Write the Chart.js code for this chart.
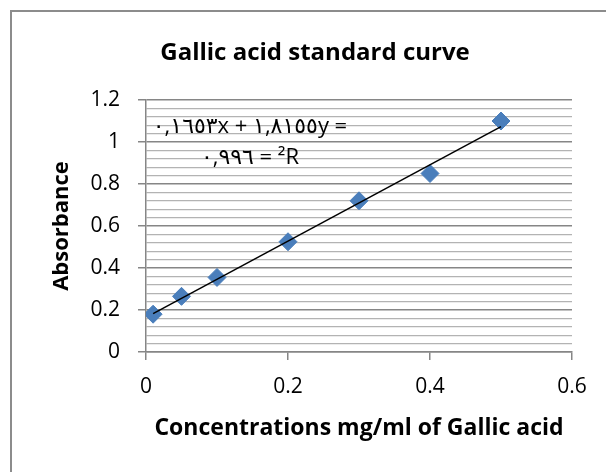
<!DOCTYPE html>
<html>
<head>
<meta charset="utf-8">
<script src="https://cdn.jsdelivr.net/npm/chart.js@4"></script>
<style>
  html, body { margin: 0; padding: 0; background: #fff; }
  #wrap { position: relative; width: 606px; height: 472px; overflow: hidden; }
  #frame { position: absolute; left: 10px; top: 10px; width: 620px; height: 480px;
           border-left: 2px solid #8c8c8c; border-top: 2px solid #8c8c8c; }
  canvas { position: absolute; left: 0; top: 0; }
</style>
</head>
<body>
<div id="wrap">
  <div id="frame"></div>
  <canvas id="chart" width="606" height="472"></canvas>
</div>
<script>
// values
const concX = [0.01, 0.05, 0.1, 0.2, 0.3, 0.4, 0.5];
const absorbY = [0.18, 0.265, 0.355, 0.525, 0.72, 0.85, 1.1];
// trendline ends as seen in the picture
const trendX = [0.01, 0.5];
const trendY = [0.183, 1.073];
const xTicks = [0, 0.2, 0.4, 0.6];
const yTicks = [0, 0.2, 0.4, 0.6, 0.8, 1, 1.2];
const chartTitle = 'Gallic acid standard curve';
const xTitle = 'Concentrations mg/ml of Gallic acid';
const yTitle = 'Absorbance';
const eqLines = ['٠,١٦٥٣x + ١,٨١٥٥y =', '٠,٩٩٦ = ²R'];

const FONT = '"Open Sans", "DejaVu Sans", sans-serif';
const isMajor = v => yTicks.some(t => Math.abs(t - v) < 1e-6);

// title and trendline label are drawn on top
const textPlugin = {
  id: 'texts',
  afterDraw(chart) {
    const c = chart.ctx;
    const a = chart.chartArea;
    c.save();
    c.fillStyle = '#000';
    c.textAlign = 'center';
    c.textBaseline = 'middle';
    c.font = 'bold 24px ' + FONT;
    c.fillText(chartTitle, 315, 53);
    c.font = '22px ' + FONT;
    eqLines.forEach((t, i) => c.fillText(t, a.left + 104, 127 + i * 31));
    c.restore();
  }
};

new Chart(document.getElementById('chart'), {
  type: 'scatter',
  data: {
    datasets: [
      {
        type: 'line',
        data: trendX.map((x, i) => ({ x: x, y: trendY[i] })),
        borderColor: '#000',
        borderWidth: 1.5,
        pointRadius: 0,
        showLine: true,
        order: 0
      },
      {
        data: concX.map((x, i) => ({ x: x, y: absorbY[i] })),
        pointStyle: 'rectRot',
        pointRadius: 9,
        backgroundColor: '#4a7ebb',
        borderColor: '#4a7ebb',
        borderWidth: 1,
        order: 1
      }
    ]
  },
  options: {
    responsive: false,
    animation: false,
    layout: { padding: { top: 100, right: 34, left: 0, bottom: 0 } },
    plugins: { legend: { display: false }, tooltip: { enabled: false } },
    scales: {
      x: {
        type: 'linear',
        min: 0, max: 0.6,
        afterFit: s => { s.height = 120; },
        ticks: {
          stepSize: 0.2,
          padding: 14,
          color: '#000',
          font: { family: FONT, size: 21 },
          callback: v => { const t = xTicks.find(k => Math.abs(k - v) < 1e-6); return t === undefined ? '' : String(t); }
        },
        grid: { drawOnChartArea: false, tickLength: 8, color: '#868686', lineWidth: 1.5 },
        border: { color: '#868686', width: 1.5 },
        title: { display: true, text: xTitle, color: '#000', font: { family: FONT, size: 23, weight: 'bold' },
                 padding: { top: 0, bottom: 30 } }
      },
      y: {
        min: 0, max: 1.2,
        afterFit: s => { s.width = 146; },
        ticks: {
          stepSize: 0.04,
          autoSkip: false,
          maxTicksLimit: 40,
          padding: 18,
          color: '#000',
          font: { family: FONT, size: 21 },
          callback: v => { const t = yTicks.find(k => Math.abs(k - v) < 1e-6); return t === undefined ? '' : String(t); }
        },
        grid: {
          tickLength: 8,
          color: c => isMajor(c.tick.value) ? '#868686' : '#b3b3b3',
          tickColor: c => isMajor(c.tick.value) ? '#868686' : 'rgba(0,0,0,0)',
          lineWidth: c => isMajor(c.tick.value) ? 1.5 : 1.3
        },
        border: { color: '#868686', width: 1.5 },
        title: { display: true, text: yTitle, color: '#000', font: { family: FONT, size: 22, weight: 'bold' },
                 padding: { top: 49, bottom: 0 } }
      }
    }
  },
  plugins: [textPlugin]
});
</script>
</body>
</html>
